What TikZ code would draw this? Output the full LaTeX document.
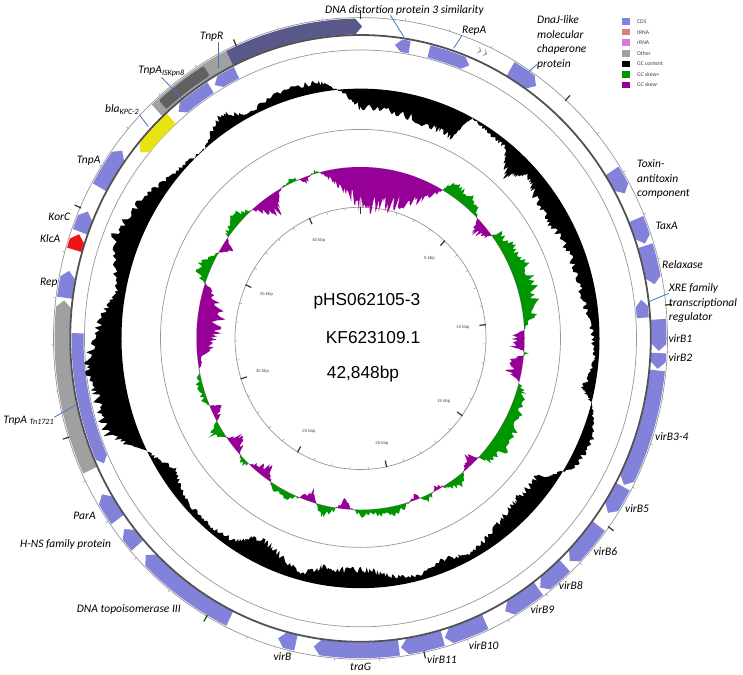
\documentclass[tikz,border=0pt]{standalone}
\usepackage{fontspec}
\newfontfamily\labelfont{Carlito}
\newfontfamily\titlefont{Liberation Sans}

\definecolor{cdsblue}{RGB}{130,130,218}
\definecolor{trnared}{RGB}{214,128,128}
\definecolor{rrnapink}{RGB}{214,120,214}
\definecolor{othergrey}{RGB}{160,160,160}
\definecolor{skewgreen}{RGB}{0,150,0}
\definecolor{skewpurple}{RGB}{150,0,150}
\definecolor{slateband}{RGB}{88,88,138}
\definecolor{darkgreyband}{RGB}{96,96,96}
\definecolor{blagold}{RGB}{232,228,20}
\definecolor{klcared}{RGB}{240,20,20}
\definecolor{leaderblue}{RGB}{62,120,190}
\definecolor{tickgreen}{RGB}{20,75,20}
\definecolor{ringgrey}{RGB}{150,150,150}

% plain arc band: from angle, to angle (clockwise from top), inner r, outer r, style
\newcommand{\band}[5]{%
  \pgfmathsetmacro{\fa}{90-#1}\pgfmathsetmacro{\fb}{90-#2}%
  \fill[#5] (\fa:#3pt) arc[start angle=\fa, end angle=\fb, radius=#3pt]
    -- (\fb:#4pt) arc[start angle=\fb, end angle=\fa, radius=#4pt] -- cycle;}

% arrow shaped feature, head at the second angle
\newcommand{\gene}[5]{%
  \pgfmathsetmacro{\fa}{90-#1}\pgfmathsetmacro{\fb}{90-#2}%
  \pgfmathsetmacro{\ft}{\fb>\fa ? \fb-1.3 : \fb+1.3}%
  \pgfmathsetmacro{\fm}{(#3+#4)/2}%
  \fill[#5] (\fa:#3pt) arc[start angle=\fa, end angle=\ft, radius=#3pt]
    -- (\fb:\fm pt) -- (\ft:#4pt) arc[start angle=\ft, end angle=\fa, radius=#4pt] -- cycle;}

% builds \prof from \ringdata (angle/value pairs)
\newcommand{\ringpath}[4]{%
  \pgfmathsetseed{2105}%
  \gdef\prof{}%
  \foreach \ta/\va [remember=\ta as \pa (initially 0), remember=\va as \pv (initially 0)] in \ringdata {%
    \foreach \j in {1,...,#4} {%
      \pgfmathsetmacro{\ang}{90-(\pa+(\ta-\pa)*\j/#4)}%
      \pgfmathsetmacro{\val}{\pv+(\va-\pv)*\j/#4}%
      \pgfmathsetmacro{\val}{\val+(#3*abs(\val)+1.3)*rand}%
      \pgfmathsetmacro{\rad}{#1+#2}%
      \xdef\prof{\prof -- (\ang:\rad pt)}%
    }%
  }%
}

\def\gcdata{0/-18,10/-20,20/-25,25/-28,28/0,32/-4,38/-6,43/-26,47/-10,52/-18,60/-20,70/-15,80/-14,88/-8,95/-4,102/-12,105/0,112/12,120/8,127/-18,133/-20,138/-18,145/-12,152/-5,158/-12,165/-5,172/-9,178/-17,185/-17,190/-17,195/-6,203/-19,208/-24,213/-8,220/-5,228/-6,236/-15,243/0,250/30,258/31,265/35,275/20,281/9,292/26,300/18,310/5,319/0,327/17,332/3,340/10,350/10,356/-4,360/-18}
\def\skewdata{0/-34,5/-38,10/-34,15/-30,20/-25,25/-20,29/-6,31/8,36/12,42/10,46/-3,48/-12,52/-8,54/8,60/12,66/15,74/16,82/12,87/0,89/-10,93/-12,95/5,97/-10,102/-12,105/0,108/8,116/12,124/16,132/12,136/-10,140/-4,144/10,148/4,152/-5,156/6,160/-4,165/4,170/8,176/4,180/6,186/-8,189/2,193/12,198/-10,202/0,206/8,212/4,216/-12,221/-4,225/6,229/-6,232/-12,235/0,238/12,242/-3,245/-10,248/4,255/5,262/-3,266/-12,272/-20,280/-22,287/-10,290/8,294/12,300/0,303/-10,307/4,312/12,318/2,322/-12,326/-18,330/-2,336/4,340/-5,344/3,347/-3,351/-15,356/-28,360/-34}

\begin{document}
\begin{tikzpicture}[x=1pt,y=1pt]

  \tikzstyle{ring} = [ringgrey, line width=0.7pt]
  \tikzstyle{backbone} = [black!68, line width=1.8pt]
  \tikzstyle{cds} = [fill=cdsblue]
  \tikzstyle{other} = [fill=othergrey]
  \tikzstyle{darkother} = [fill=darkgreyband]
  \tikzstyle{slate} = [fill=slateband]
  \tikzstyle{bla} = [fill=blagold]
  \tikzstyle{klca} = [fill=klcared]
  \tikzstyle{gc} = [fill=black]
  \tikzstyle{minortick} = [ringgrey, line width=0.5pt]
  \tikzstyle{majortick} = [tickgreen, line width=1.2pt]
  \tikzstyle{ticklabel} = [font=\titlefont\fontsize{4.3}{5}\selectfont, text=black!70, inner sep=0pt]
  \tikzstyle{glabel} = [font=\labelfont\itshape\fontsize{11.5}{14.5}\selectfont, inner sep=0pt]
  \tikzstyle{title} = [font=\titlefont\fontsize{17.3}{20}\selectfont, inner sep=0pt]
  \tikzstyle{legendtext} = [font=\labelfont\fontsize{5.7}{6}\selectfont, text=black!75, inner sep=0pt]
  \tikzstyle{leader} = [leaderblue, line width=0.8pt]

  \useasboundingbox (-360.5,-335.6) rectangle (382.5,338.4);

  \begin{scope}[yscale=1.045]

    \draw[ring] (0,0) circle[radius=307pt];
    \draw[ring] (0,0) circle[radius=276pt];
    \draw[ring] (0,0) circle[radius=200pt];
    \draw[ring] (0,0) circle[radius=125.5pt];

    % GC content
    \let\ringdata\gcdata
    \ringpath{239}{\val}{0.12}{18}
    \edef\ringfill{\noexpand\fill[gc, even odd rule] (90:239pt) \prof -- cycle (0,0) circle[radius=239pt];}
    \ringfill

    % GC skew
    \let\ringdata\skewdata
    \ringpath{164}{max(\val,0)}{0.25}{10}
    \edef\ringfill{\noexpand\fill[skewgreen, even odd rule] (90:164pt) \prof -- cycle (0,0) circle[radius=164pt];}
    \ringfill
    \ringpath{164}{min(\val,0)}{0.25}{10}
    \edef\ringfill{\noexpand\fill[skewpurple, even odd rule] (90:164pt) \prof -- cycle (0,0) circle[radius=164pt];}
    \ringfill

    % forward strand
    \band{-43}{-25}{291}{306}{other}
    \band{-41.5}{-31}{293}{304}{darkother, rounded corners=1.5pt}
    \gene{-26}{0.3}{291}{306}{slate}
    \fill[other] (67:296pt) -- (66.2:300pt) -- (67:304pt) -- (66.6:300pt) -- cycle;
    \fill[other] (65.8:296pt) -- (65:300pt) -- (65.8:304pt) -- (65.4:300pt) -- cycle;
    \gene{30.2}{36}{291}{306}{cds}
    \gene{57.5}{62.3}{291}{306}{cds}
    \gene{67.5}{72.3}{291}{306}{cds}
    \gene{72.7}{80}{291}{306}{cds}
    \gene{86.5}{92.3}{291}{306}{cds}
    \gene{92.7}{95.6}{291}{306}{cds}
    \gene{95.9}{118}{291}{306}{cds}
    \gene{118.4}{124}{291}{306}{cds}
    \gene{127}{135.5}{291}{306}{cds}
    \gene{136.8}{143}{291}{306}{cds}
    \gene{143.4}{151}{291}{306}{cds}
    \gene{155.3}{163.6}{291}{306}{cds}
    \gene{164}{172.2}{291}{306}{cds}
    \gene{172.6}{189}{291}{306}{cds}
    \gene{192.5}{196}{291}{306}{cds}
    \gene{206}{226}{291}{306}{cds}
    \gene{228.4}{232.3}{291}{306}{cds}
    \gene{234.5}{240}{291}{306}{cds}
    \gene{245}{277}{291}{306}{other}
    \gene{277.5}{282.5}{291}{306}{cds}
    \gene{286.5}{289.5}{291}{306}{klca}
    \gene{290}{294}{291}{306}{cds}
    \gene{299}{307}{291}{306}{cds}

    % reverse strand
    \gene{271}{245}{277}{289}{cds}
    \gene{318}{309}{276}{290}{bla}
    \gene{328}{320}{277}{289}{cds}
    \gene{334}{329}{277}{289}{cds}
    \gene{10}{7}{277}{289}{cds}
    \gene{14}{22.6}{277}{289}{cds}
    \gene{86}{82.5}{277}{289}{cds}

    \draw[backbone] (0,0) circle[radius=290.3pt];

    % scale ticks
    \foreach \k in {1,...,42} {
      \draw[minortick] ({90-\k*8.40179}:307pt) -- ({90-\k*8.40179}:309.5pt);
      \draw[minortick] ({90-\k*8.40179}:125.5pt) -- ({90-\k*8.40179}:123pt);
    }
    \foreach \k in {0,5,...,40} {
      \draw[majortick] ({90-\k*8.40179}:306pt) -- ({90-\k*8.40179}:313pt);
      \draw[majortick] ({90-\k*8.40179}:126pt) -- ({90-\k*8.40179}:119.5pt);
    }
    \foreach \k in {5,10,...,40}
      \node[ticklabel] (kbp\k) at ({90-\k*8.40179}:103pt) {\k\ kbp};

  \end{scope}

  \node[title, anchor=base west] (plasmid) at (-47.2,32.4) {pHS062105-3};
  \node[title, anchor=base west] (accession) at (-34.8,-4.9) {KF623109.1};
  \node[title, anchor=base west] (length) at (-33.8,-40.3) {42,848bp};

  % gene labels
  \node[glabel, anchor=base west] (lbl-dna) at (-35.5,325.1) {DNA distortion protein 3 similarity};
  \node[glabel, anchor=base west] (lbl-repa) at (101.5,305.1) {RepA};
  \node[glabel, anchor=north west, align=left] (lbl-dnaj) at (176.5,322.7) {DnaJ-like\\molecular\\chaperone\\protein};
  \node[glabel, anchor=north west, align=left] (lbl-tox) at (276.5,178.7) {Toxin-\\antitoxin\\component};
  \node[glabel, anchor=base west] (lbl-taxa) at (294.8,109.1) {TaxA};
  \node[glabel, anchor=base west] (lbl-relax) at (301.5,69.4) {Relaxase};
  \node[glabel, anchor=north west, align=left] (lbl-xre) at (308.2,55) {XRE family\\transcriptional\\regulator};
  \node[glabel, anchor=base west] (lbl-virb1) at (307.8,-3.6) {virB1};
  \node[glabel, anchor=base west] (lbl-virb2) at (307.8,-22.6) {virB2};
  \node[glabel, anchor=base west] (lbl-virb34) at (294.5,-102.3) {virB3-4};
  \node[glabel, anchor=base west] (lbl-virb5) at (264.5,-174.3) {virB5};
  \node[glabel, anchor=base west] (lbl-virb6) at (232.8,-217.3) {virB6};
  \node[glabel, anchor=base west] (lbl-virb8) at (198.2,-250.9) {virB8};
  \node[glabel, anchor=base west] (lbl-virb9) at (169.8,-275.3) {virB9};
  \node[glabel, anchor=base west] (lbl-virb10) at (108.2,-310.9) {virB10};
  \node[glabel, anchor=base west] (lbl-virb11) at (66.5,-325.3) {virB11};
  \node[glabel, anchor=base west] (lbl-trag) at (-10.5,-331.6) {traG};
  \node[glabel, anchor=base west] (lbl-virb) at (-87.2,-322.3) {virB};
  \node[glabel, anchor=base west] (lbl-topo) at (-283.8,-273.9) {DNA topoisomerase III};
  \node[glabel, anchor=base west] (lbl-hns) at (-340.5,-209.3) {H-NS family protein};
  \node[glabel, anchor=base west] (lbl-para) at (-287.2,-181.3) {ParA};
  \node[glabel, anchor=base west] (lbl-tn1721) at (-357.2,-84.6) {TnpA \textsubscript{Tn1721}};
  \node[glabel, anchor=base west] (lbl-rep) at (-320.5,52.4) {Rep};
  \node[glabel, anchor=base west] (lbl-klca) at (-320.5,95.7) {KlcA};
  \node[glabel, anchor=base west] (lbl-korc) at (-312.2,117.4) {KorC};
  \node[glabel, anchor=base west] (lbl-tnpa) at (-283.8,175.1) {TnpA};
  \node[glabel, anchor=base west] (lbl-bla) at (-255.5,225.7) {bla\textsubscript{KPC-2}};
  \node[glabel, anchor=base west] (lbl-iskpn8) at (-222.2,264.4) {TnpA\textsubscript{ISKpn8}};
  \node[glabel, anchor=base west] (lbl-tnpr) at (-160.5,298.4) {TnpR};

  \coordinate (pt-tnpr) at (-142.2,270.1);
  \coordinate (pt-iskpn8) at (-177.2,238.4);
  \coordinate (pt-bla) at (-212.2,211.7);
  \coordinate (pt-dna) at (43.2,301.7);
  \coordinate (pt-repa) at (93.2,290.1);
  \coordinate (pt-dnaj) at (168.2,266.7);
  \coordinate (pt-xre) at (288.2,36.7);
  \coordinate (pt-tn1721) at (-285.5,-66.9);

  \draw[leader] (lbl-tnpr.south -| pt-tnpr) -- (pt-tnpr);
  \draw[leader] (lbl-iskpn8.south) -- (pt-iskpn8);
  \draw[leader] (lbl-bla.south east) -- (pt-bla);
  \draw[leader] ([xshift=-14pt]lbl-dna.south) -- (pt-dna);
  \draw[leader] (lbl-repa.south west) -- (pt-repa);
  \draw[leader] ([yshift=5pt]lbl-dnaj.south west) -- (pt-dnaj);
  \draw[leader] ([yshift=-10pt]lbl-xre.north west) -- (pt-xre);
  \draw[leader] ([yshift=3pt]lbl-tn1721.east) -- (pt-tn1721);

  % legend
  \foreach \c/\t [count=\i] in {cdsblue/CDS, trnared/tRNA, rrnapink/rRNA, othergrey/Other, black/GC content, skewgreen/GC skew+, skewpurple/GC skew-} {
    \fill[\c] (261.5,{320-(\i-1)*10.55}) rectangle ++(8.3,-6.5);
    \node[legendtext, anchor=west] (leg\i) at (276.5,{316.7-(\i-1)*10.55}) {\t};
  }

\end{tikzpicture}
\end{document}
